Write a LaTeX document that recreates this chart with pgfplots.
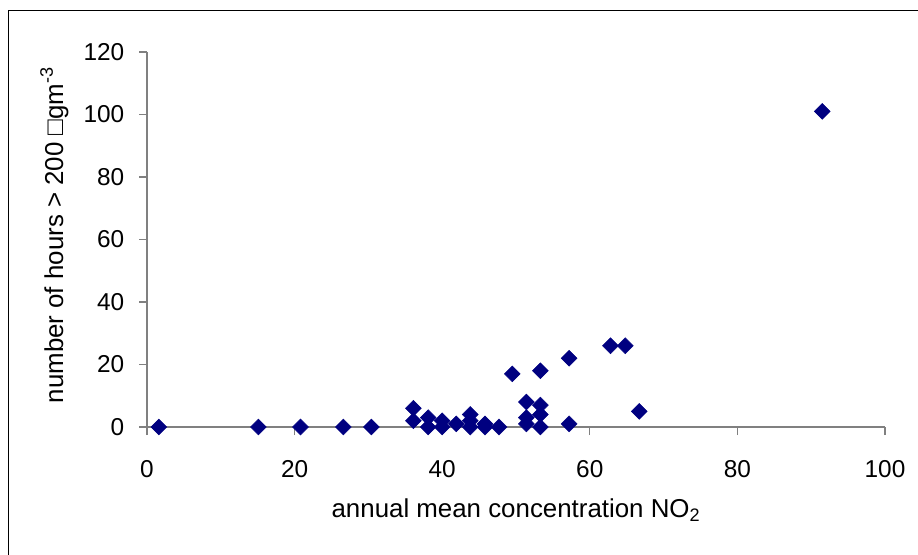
\documentclass[border=0pt]{standalone}
\usepackage{pgfplots}
\pgfplotsset{compat=1.18}
\usepackage{fontspec}
\setmainfont{Liberation Sans}
\definecolor{navyc}{HTML}{000080}
\definecolor{axc}{HTML}{808080}
\begin{document}
\begin{tikzpicture}
\useasboundingbox (0,0) rectangle (688.5pt,415.5pt);
\draw[black, line width=1.1pt] (6.3pt,-10pt) rectangle (700pt,407.6pt);
\begin{axis}[
  at={(110.25pt,95.25pt)}, anchor=south west,
  scale only axis, width=553.5pt, height=281.25pt,
  xmin=0, xmax=100, ymin=0, ymax=120,
  xtick={0,20,...,100}, ytick={0,20,...,120},
  axis lines*=left,
  axis line style={axc, line width=0.8pt},
  tick style={axc, line width=0.8pt},
  tick align=outside, major tick length=6pt,
  minor tick num=0,
  clip=false,
  /pgf/number format/assume math mode=true,
  ticklabel style={font=\fontsize{18.3}{21}\selectfont},
  xticklabel style={yshift=-15.5pt},
  yticklabel style={xshift=-7.5pt},
]
\addplot[only marks, mark=square*, mark size=4.2pt, mark options={rotate=45, fill=navyc, draw=navyc}] coordinates {
(1.6,0) (15.1,0) (20.8,0) (26.6,0) (30.4,0)
(36.1,6) (36.1,2) (38.1,3) (38.1,0) (40.0,2) (40.0,0)
(41.9,1) (43.8,4) (43.8,2) (43.8,0) (45.8,1) (45.8,0) (47.7,0)
(49.5,17) (51.4,8) (51.4,3) (51.4,1)
(53.3,18) (53.3,7) (53.3,4) (53.3,0)
(57.2,22) (57.2,1) (62.8,26) (64.8,26) (66.7,5) (91.5,101)
};
\end{axis}
\node[anchor=base, font=\fontsize{19.4}{22}\selectfont, inner sep=0pt] at (387pt,27.75pt) {annual mean concentration NO\textsubscript{2}};
\node[anchor=base, rotate=90, font=\fontsize{19.4}{22}\selectfont, inner sep=0pt] at (47.25pt,239.25pt) {number of hours > 200 □gm\textsuperscript{-3}};
\end{tikzpicture}
\end{document}
